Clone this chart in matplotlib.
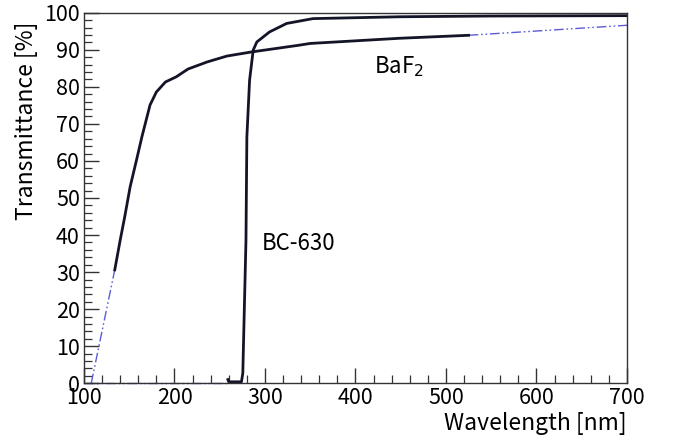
import numpy as np
import matplotlib
matplotlib.use('Agg')
import matplotlib.pyplot as plt
from matplotlib.ticker import MultipleLocator

plt.rcParams['font.family'] = ['Noto Sans CJK JP', 'DejaVu Sans']

# BaF2 measured curve
baf2_wl = [134, 140, 145, 151, 158, 164, 173, 180, 190, 202, 215, 236, 258, 285, 337, 350, 449, 525]
baf2_tr = [30.6, 38.6, 44.9, 53.0, 60.2, 66.5, 75.1, 78.6, 81.3, 82.7, 84.8, 86.7, 88.3, 89.4, 91.2, 91.7, 93.1, 93.9]
# BaF2 extrapolated parts
baf2_low_wl = [108, 134]
baf2_low_tr = [0, 30.6]
baf2_high_wl = [525, 700]
baf2_high_tr = [93.9, 96.6]

# BC-630 measured curve
bc_wl = [259, 260, 274, 275.5, 279, 280, 283, 287, 291, 305, 324, 353, 449, 550, 700]
bc_tr = [1.0, 0.4, 0.4, 2.7, 38.6, 66.5, 81.8, 89.9, 92.1, 94.8, 97.1, 98.4, 98.9, 99.1, 99.2]
bc_low_wl = [100, 259]
bc_low_tr = [0, 0]

blue = '#5c5cd6'
dash = (0, (7, 2, 1.2, 2, 1.2, 2))

fig = plt.figure(figsize=(6.8, 4.42), dpi=100)
ax = fig.add_axes([0.1235, 0.1328, 0.7985, 0.8385])

ax.plot(baf2_low_wl, baf2_low_tr, color=blue, lw=1.0, linestyle=dash)
ax.plot(baf2_high_wl, baf2_high_tr, color=blue, lw=1.0, linestyle=dash)
ax.plot(bc_low_wl, bc_low_tr, color=blue, lw=1.0, linestyle=dash, clip_on=False)
ax.plot(baf2_wl, baf2_tr, color='#141428', lw=2.0)
ax.plot(bc_wl, bc_tr, color='#141428', lw=2.0)

ax.set_xlim(100, 700)
ax.set_ylim(0, 100)
ax.xaxis.set_major_locator(MultipleLocator(100))
ax.xaxis.set_minor_locator(MultipleLocator(20))
ax.yaxis.set_major_locator(MultipleLocator(10))
ax.yaxis.set_minor_locator(MultipleLocator(2))
ax.tick_params(which='both', direction='in', top=False, right=False, labelsize=15.5, color='#333333')
ax.tick_params(which='major', length=11, width=1.0)
ax.tick_params(which='minor', length=6, width=0.9)
ax.tick_params(axis='x', pad=3)
ax.tick_params(axis='y', pad=3)
for s in ax.spines.values():
    s.set_color('#333333')
    s.set_linewidth(1.0)

ax.set_xlabel('Wavelength [nm]', fontsize=16.5, loc='right', labelpad=2)
ax.set_ylabel('Transmittance [%]', fontsize=16.5, loc='top')
ax.yaxis.set_label_coords(-0.085, 0.976)

ax.text(421, 83.6, 'BaF$_2$', fontsize=16, ha='left', va='baseline')
ax.text(296, 36, 'BC-630', fontsize=16, ha='left', va='baseline')

fig.savefig('out.png', dpi=100)
